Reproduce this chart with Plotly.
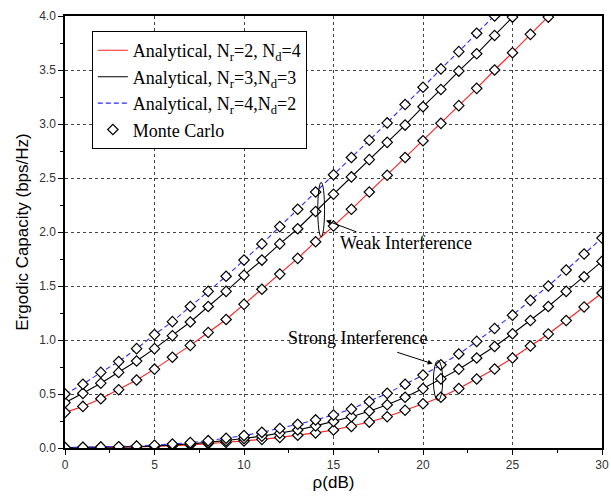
import plotly.graph_objects as go

rho = list(range(0, 31))

# Weak interference (upper curves)
weak_r2d4 = [0.33, 0.385, 0.456, 0.54, 0.63, 0.73, 0.84, 0.95, 1.07, 1.19, 1.33, 1.47, 1.61, 1.756, 1.91,
             2.055, 2.21, 2.37, 2.525, 2.69, 2.845, 3.006, 3.17, 3.33, 3.50, 3.66, 3.83, 3.99, 4.16, 4.33, 4.50]
weak_r3d3 = [0.42, 0.506, 0.60, 0.70, 0.805, 0.92, 1.04, 1.167, 1.31, 1.45, 1.60, 1.74, 1.89, 2.03, 2.19,
             2.35, 2.51, 2.67, 2.83, 2.99, 3.16, 3.32, 3.49, 3.65, 3.82, 3.99, 4.15, 4.32, 4.49, 4.66, 4.83]
weak_r4d2 = [0.50, 0.59, 0.70, 0.80, 0.92, 1.05, 1.17, 1.31, 1.45, 1.59, 1.74, 1.89, 2.05, 2.21, 2.37,
             2.53, 2.69, 2.85, 3.01, 3.18, 3.34, 3.51, 3.67, 3.84, 4.0, 4.17, 4.34, 4.51, 4.68, 4.85, 5.02]

# Strong interference (lower curves)
strong_r2d4 = [0.002, 0.003, 0.005, 0.007, 0.010, 0.014, 0.020, 0.028, 0.040, 0.052, 0.065, 0.080, 0.098, 0.118,
               0.140, 0.167, 0.20, 0.24, 0.29, 0.35, 0.41, 0.47, 0.55, 0.639, 0.731, 0.833, 0.944, 1.056, 1.18,
               1.306, 1.435]
strong_r3d3 = [0.003, 0.004, 0.006, 0.009, 0.013, 0.019, 0.027, 0.038, 0.052, 0.068, 0.088, 0.11, 0.137, 0.167,
               0.205, 0.245, 0.29, 0.34, 0.40, 0.47, 0.55, 0.64, 0.73, 0.833, 0.94, 1.058, 1.18, 1.31, 1.45,
               1.586, 1.728]
strong_r4d2 = [0.004, 0.006, 0.008, 0.012, 0.018, 0.026, 0.037, 0.050, 0.068, 0.090, 0.115, 0.145, 0.18, 0.22,
               0.26, 0.306, 0.36, 0.43, 0.506, 0.59, 0.675, 0.77, 0.87, 0.987, 1.107, 1.23, 1.367, 1.50, 1.648,
               1.796, 1.944]

names = ["Analytical, N<sub>r</sub>=2, N<sub>d</sub>=4",
         "Analytical, N<sub>r</sub>=3,N<sub>d</sub>=3",
         "Analytical, N<sub>r</sub>=4,N<sub>d</sub>=2"]
colors = ["#ff2020", "#000000", "#2a2aff"]
dashes = ["solid", "solid", "5px,3px"]

weak = [weak_r2d4, weak_r3d3, weak_r4d2]
strong = [strong_r2d4, strong_r3d3, strong_r4d2]

fig = go.Figure()
for i in range(3):
    for j, series in enumerate([weak[i], strong[i]]):
        fig.add_trace(go.Scatter(
            x=rho, y=series, mode="lines", name=names[i],
            line=dict(color=colors[i], width=1.1, dash=dashes[i]),
            legendgroup=f"g{i}", showlegend=(j == 0)))

first = True
for i in range(3):
    for series in [weak[i], strong[i]]:
        fig.add_trace(go.Scatter(
            x=rho, y=series, mode="markers", name="Monte Carlo",
            marker=dict(symbol="diamond", size=8, color="white",
                        line=dict(color="black", width=1.2)),
            legendgroup="mc", showlegend=first))
        first = False

serif = "Liberation Serif, Times New Roman, serif"
sans = "Liberation Sans, Arial, sans-serif"

# Ellipses
fig.add_shape(type="circle", xref="x", yref="y", x0=14.12, x1=14.5, y0=1.955, y1=2.46,
              line=dict(color="black", width=1))
fig.add_shape(type="circle", xref="x", yref="y", x0=20.58, x1=21.1, y0=0.44, y1=0.81,
              line=dict(color="black", width=1))

# Arrows
fig.add_annotation(x=14.58, y=2.107, ax=32, ay=12, xref="x", yref="y", text="",
                   showarrow=True, arrowhead=2, arrowsize=1, arrowwidth=1, arrowcolor="black")
fig.add_annotation(x=20.54, y=0.78, ax=-37, ay=-12, xref="x", yref="y", text="",
                   showarrow=True, arrowhead=2, arrowsize=1, arrowwidth=1, arrowcolor="black")

fig.add_annotation(x=15.25, y=1.90, xref="x", yref="y", text="Weak Interference", showarrow=False,
                   xanchor="left", yanchor="middle", font=dict(family=serif, size=18, color="black"))
fig.add_annotation(x=12.35, y=1.02, xref="x", yref="y", text="Strong Interference", showarrow=False,
                   xanchor="left", yanchor="middle", font=dict(family=serif, size=18, color="black"))

axis_common = dict(showline=True, mirror=True, linecolor="black", linewidth=1.5,
                   showgrid=True, gridcolor="#444444", griddash="dot", gridwidth=1,
                   ticks="outside", ticklen=5, tickcolor="black", zeroline=False,
                   automargin=False,
                   tickfont=dict(family=sans, size=12, color="#333333"))

fig.update_xaxes(range=[0, 30], dtick=5, tick0=0,
                 minor=dict(ticks="outside", ticklen=3, dtick=2.5, tickcolor="black", showgrid=False),
                 title=dict(text="ρ(dB)", font=dict(family=sans, size=17, color="black"), standoff=5),
                 **axis_common)
fig.update_yaxes(range=[0, 4], dtick=0.5, tick0=0, tickformat=".1f",
                 minor=dict(ticks="outside", ticklen=3, dtick=0.25, tickcolor="black", showgrid=False),
                 title=dict(text="Ergodic Capacity (bps/Hz)", font=dict(family=sans, size=17, color="black"),
                            standoff=6),
                 **axis_common)

fig.update_layout(
    width=611, height=498,
    margin=dict(l=65, r=9, t=16, b=50),
    plot_bgcolor="white", paper_bgcolor="white",
    legend=dict(x=0.05, y=0.965, xanchor="left", yanchor="top",
                bgcolor="white", bordercolor="black", borderwidth=1,
                font=dict(family=serif, size=18, color="black"),
                tracegroupgap=0),
    showlegend=True,
)

fig.write_html("out.html", config={"displayModeBar": False},
               post_script="document.body.style.margin='0';document.body.style.padding='0';")
